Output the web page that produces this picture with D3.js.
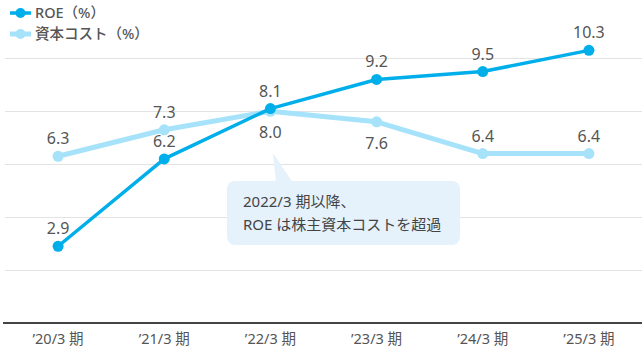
<!DOCTYPE html>
<html><head><meta charset="utf-8">
<script src="https://cdn.jsdelivr.net/npm/d3@7"></script>
<style>
html,body{margin:0;padding:0;background:#fff;}
svg{display:block;font-family:"Noto Sans","Noto Sans CJK JP",sans-serif;}
</style></head>
<body>
<svg id="c" width="642" height="347"></svg>
<script>
const categories = ["’20/3 期","’21/3 期","’22/3 期","’23/3 期","’24/3 期","’25/3 期"];
const roeValues = [2.9, 6.2, 8.1, 9.2, 9.5, 10.3];
const costValues = [6.3, 7.3, 8.0, 7.6, 6.4, 6.4];
const roeLabelPos = ["above","above","above","above","above","above"];
const costLabelPos = ["above","above","below","below","above","above"];
const gridTicks = [2, 4, 6, 8, 10];
const seriesNames = ["ROE（%）", "資本コスト（%）"];
const calloutLines = ["2022/3 期以降、", "ROE は株主資本コストを超過"];

const roeColor = "#00aeea", costColor = "#a6e3fa", textColor = "#555";
const FONT = "'Noto Sans','Noto Sans CJK JP',sans-serif";
const svg = d3.select("#c");
const x = d3.scaleBand().domain(categories).range([5, 642]);
const cx = c => x(c) + x.bandwidth() / 2;
const y = d3.scaleLinear().domain([0, 10]).range([323, 58.3]);

// grid
svg.append("g").selectAll("line").data(gridTicks).join("line")
  .attr("x1", 5).attr("x2", 642)
  .attr("y1", d => Math.round(y(d)) + 0.5).attr("y2", d => Math.round(y(d)) + 0.5)
  .attr("stroke", "#e3e3e3").attr("stroke-width", 1);

// x axis
const xAxis = d3.axisBottom(x).tickSize(0).tickPadding(0);
const ax = svg.append("g").attr("transform", `translate(0,${y(0)})`).call(xAxis);
ax.select(".domain").attr("d", "M3,0H642").attr("stroke", "#444").attr("stroke-width", 2);
ax.selectAll("text").attr("y", 21).attr("dy", 0).attr("font-size", 14.5)
  .attr("fill", textColor).attr("font-family", FONT);

// callout
const cg = svg.append("g");
cg.append("path").attr("d", "M273,153 L276,183 L293,183 Z").attr("fill", "#e5f1fb");
cg.append("rect").attr("x", 227).attr("y", 181).attr("width", 233).attr("height", 64)
  .attr("rx", 8).attr("fill", "#e5f1fb");
cg.selectAll("text").data(calloutLines).join("text")
  .attr("x", 243).attr("y", (d, i) => 207 + i * 22.5)
  .attr("font-size", 15).attr("fill", "#444").text(d => d);

function drawSeries(vals, color, lw, r) {
  const pts = categories.map((c, i) => [cx(c), y(vals[i])]);
  svg.append("path").attr("d", d3.line()(pts)).attr("fill", "none")
    .attr("stroke", color).attr("stroke-width", lw).attr("stroke-linejoin", "round");
  svg.append("g").selectAll("circle").data(pts).join("circle")
    .attr("cx", d => d[0]).attr("cy", d => d[1]).attr("r", r).attr("fill", color);
}
drawSeries(costValues, costColor, 5, 5.5);
drawSeries(roeValues, roeColor, 3.5, 5.5);

function drawLabels(vals, pos) {
  svg.append("g").selectAll("text").data(categories).join("text")
    .attr("x", c => cx(c))
    .attr("y", (c, i) => y(vals[i]) + (pos[i] === "above" ? -12 : 27))
    .attr("text-anchor", "middle").attr("font-size", 16).attr("fill", textColor)
    .text((c, i) => vals[i].toFixed(1));
}
drawLabels(costValues, costLabelPos);
drawLabels(roeValues, roeLabelPos);

// legend
const legColors = [roeColor, costColor];
const legW = [3.5, 5];
const lg = svg.append("g").selectAll("g").data(seriesNames).join("g")
  .attr("transform", (d, i) => `translate(0,${13 + i * 21})`);
lg.append("line").attr("x1", 10).attr("x2", 31).attr("y1", 0).attr("y2", 0)
  .attr("stroke", (d, i) => legColors[i]).attr("stroke-width", (d, i) => legW[i]);
lg.append("circle").attr("cx", 20.5).attr("cy", 0).attr("r", 5).attr("fill", (d, i) => legColors[i]);
lg.append("text").attr("x", 35).attr("y", 5).attr("font-size", 14.5).attr("font-weight", 500)
  .attr("fill", textColor).text(d => d);
</script>
</body></html>
